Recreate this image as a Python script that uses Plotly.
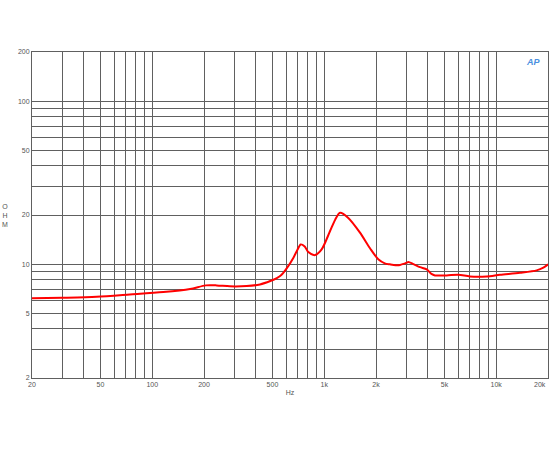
import plotly.graph_objects as go

freq_hz = [20, 30, 47.5, 74, 116, 166, 205, 237, 283, 354, 423, 486, 530, 563, 605, 661,
           700, 730, 770, 808, 884, 966, 1080, 1160, 1236, 1380, 1614, 1846, 2062, 2250,
           2412, 2600, 2758, 3020, 3083, 3300, 3603, 3944, 4200, 4405, 5152, 6020, 7040,
           8800, 10520, 13740, 17190, 18800, 20000]
impedance_ohm = [6.16, 6.21, 6.3, 6.5, 6.73, 7.03, 7.4, 7.4, 7.3, 7.33, 7.5, 7.87, 8.2, 8.56,
                 9.41, 10.9, 12.3, 13.2, 12.8, 11.85, 11.35, 12.3, 15.9, 18.8, 20.65, 19.2,
                 15.6, 12.5, 10.7, 10.1, 9.96, 9.85, 9.87, 10.2, 10.3, 10.0, 9.58, 9.28,
                 8.7, 8.52, 8.52, 8.6, 8.4, 8.4, 8.6, 8.85, 9.15, 9.5, 9.96]

x_grid = [20, 30, 40, 50, 60, 70, 80, 90, 100, 200, 300, 400, 500, 600, 700, 800, 900,
          1000, 2000, 3000, 4000, 5000, 6000, 7000, 8000, 9000, 10000, 20000]
x_labels = {20: "20", 50: "50", 100: "100", 200: "200", 500: "500", 1000: "1k",
            2000: "2k", 5000: "5k", 10000: "10k", 20000: "20k"}
y_grid = [2, 3, 4, 5, 6, 7, 8, 9, 10, 20, 30, 40, 50, 60, 70, 80, 90, 100, 200]
y_labels = {2: "2", 5: "5", 10: "10", 20: "20", 50: "50", 100: "100", 200: "200"}

FONT = "Liberation Sans, Arial, sans-serif"
TXT = "#555555"

fig = go.Figure()
fig.add_trace(go.Scatter(x=freq_hz, y=impedance_ohm, mode="lines",
                         line=dict(color="#ff0000", width=2, shape="spline", smoothing=0.8),
                         hoverinfo="skip", showlegend=False, cliponaxis=True))

axis_common = dict(showgrid=True, gridcolor="#606060", gridwidth=1, showline=True,
                   linecolor="#606060", linewidth=1, mirror=True, ticks="",
                   zeroline=False, automargin=False,
                   tickfont=dict(family=FONT, size=7, color=TXT))

# last label (20k) sits at the very right edge; drawn right-aligned below
last_x = x_grid[-1]
fig.update_xaxes(type="log", range=[1.30103, 4.30103], tickmode="array", tickvals=x_grid,
                 ticktext=[x_labels.get(v, "") if v != last_x else "" for v in x_grid],
                 ticklabelstandoff=0,
                 title=dict(text="Hz", font=dict(family=FONT, size=7, color=TXT), standoff=2),
                 **axis_common)
fig.update_yaxes(type="log", range=[0.30103, 2.30103], tickmode="array", tickvals=y_grid,
                 ticktext=[y_labels.get(v, "") for v in y_grid], **axis_common)

fig.add_annotation(text=x_labels[last_x], xref="paper", yref="paper", x=1.0, y=0,
                   xanchor="right", yanchor="top", yshift=-1, showarrow=False,
                   font=dict(family=FONT, size=7, color=TXT))
fig.add_annotation(text="O<br>H<br>M", xref="paper", yref="paper", x=-0.052, y=0.5,
                   showarrow=False, font=dict(family=FONT, size=7, color=TXT),
                   xanchor="center", yanchor="middle")
fig.add_annotation(text="<i><b>AP</b></i>", xref="paper", yref="paper", x=0.99, y=0.99,
                   showarrow=False, font=dict(family=FONT, size=9, color="#4a8fe0"),
                   xanchor="right", yanchor="top")

fig.update_layout(width=550, height=450, margin=dict(l=32, r=2, t=52, b=72, autoexpand=False),
                  paper_bgcolor="white", plot_bgcolor="white")

fig.write_html("out.html", config={"displayModeBar": False},
               post_script="document.body.style.margin='0';document.body.style.padding='0';")
